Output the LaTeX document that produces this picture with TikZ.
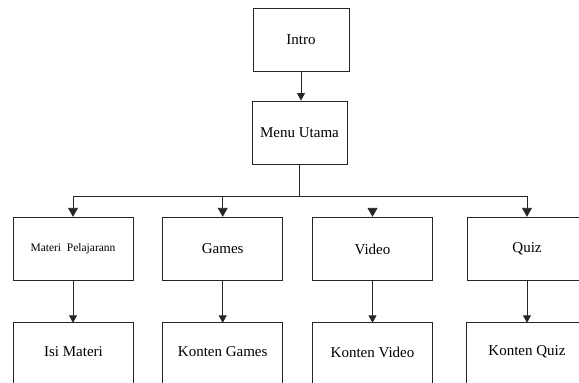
\documentclass[tikz,border=0pt]{standalone}
\usepackage{fontspec}
\setmainfont{Liberation Serif}
\usetikzlibrary{arrows.meta}
\begin{document}
\begin{tikzpicture}[x=1pt,y=-1pt,
  ln/.style={line width=0.9pt, draw=black!85},
  box/.style={ln, draw, minimum width=96pt, minimum height=63pt, inner sep=0pt,
    font=\fontsize{15}{18}\selectfont},
  mbox/.style={box, minimum width=120pt, minimum height=63.5pt},
  obox/.style={minimum width=120pt, minimum height=58pt, inner sep=0pt,
    font=\fontsize{15}{18}\selectfont},
  open/.style={ln},
  big/.style={ln, -{Triangle[width=10pt,length=9pt]}},
  small/.style={ln, -{Triangle[width=8pt,length=7.5pt]}}]
\useasboundingbox (0,0) rectangle (579,383);
% top boxes
\node[box] (intro) at (301,39.5) {Intro};
\node[box, minimum width=95pt] (menu) at (299.5,132.5) {Menu Utama};
% second row
\node[mbox, font=\fontsize{11.5}{14}\selectfont] (materi) at (73,249) {Materi\ \ Pelajarann};
\node[mbox] (games) at (222.7,249) {Games};
\node[mbox] (video) at (372.5,249) {Video};
\node[mbox] (quiz) at (527,249) {Quiz};
% third row (open at the bottom)
\node[obox] (isi) at (73.5,352) {Isi Materi};
\node[obox] (kgames) at (222.7,352) {Konten Games};
\node[obox] (kvideo) at (372.5,352) {Konten Video};
\node[obox] (kquiz) at (527,352) {Konten Quiz};
\foreach \b in {isi,kgames,kvideo,kquiz}{
  \draw[open] ([yshift=-12pt]\b.south west) -- (\b.north west) -- (\b.north east) -- ([yshift=-12pt]\b.south east);
}
% connectors
\coordinate (hl) at (73,196);
\coordinate (hr) at (527,196);
\coordinate (vs) at (372.5,208);
\draw[small] (intro.south) -- (intro.south |- menu.north);
\draw[ln] (menu.south) -- (menu.south |- hl);
\draw[ln] (hl) -- (hr);
\draw[big] (hl) -- (materi.north);
\draw[big] (games.north |- hl) -- (games.north);
\draw[big] (vs) -- (video.north);
\draw[big] (hr) -- (quiz.north);
\draw[small] (materi.south) -- (materi.south |- isi.north);
\draw[small] (games.south) -- (kgames.north);
\draw[small] (video.south) -- (kvideo.north);
\draw[small] (quiz.south) -- (kquiz.north);
\end{tikzpicture}
\end{document}
